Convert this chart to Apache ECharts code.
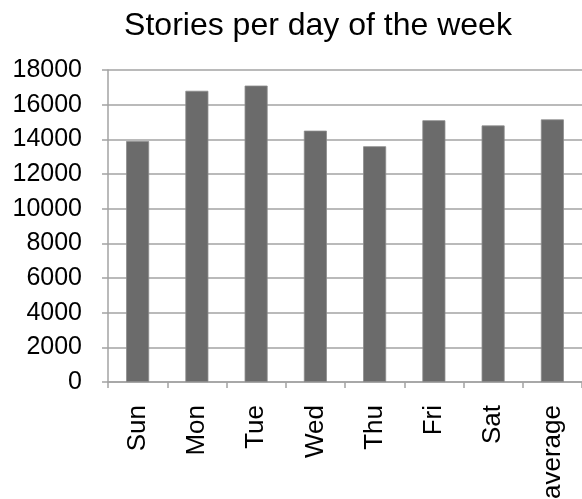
<!DOCTYPE HTML>
<html>
	<head>
		<meta http-equiv="Content-type" content="text/html; charset=UTF-8" />
		<script type="text/javascript" src="https://cdn.jsdelivr.net/npm/echarts@6/dist/echarts.min.js"></script>
		<style>
			body { margin: 0; }
		</style>
		<script type="text/javascript">
			var days = ['Sun', 'Mon', 'Tue', 'Wed', 'Thu', 'Fri', 'Sat', 'average'];
			var stories = [13900, 16800, 17100, 14500, 13600, 15100, 14800, 15150];
			var yTicks = [0, 2000, 4000, 6000, 8000, 10000, 12000, 14000, 16000, 18000];

			var lineColor = '#a3a3a3';
			var font = 'Liberation Sans, Arial, Helvetica, sans-serif';

			var option = {
				animation: false,
				title: {
					text: 'Stories per day of the week',
					left: 313,
					top: 5,
					textAlign: 'center',
					textStyle: { fontSize: 32, fontWeight: 'normal', color: '#000', fontFamily: font }
				},
				grid: {
					left: 108, right: 0, top: 70, bottom: 117,
					containLabel: false,
					outerBoundsMode: 'none'
				},
				xAxis: {
					type: 'category',
					data: days,
					axisLine: { lineStyle: { color: lineColor, width: 1.5 } },
					axisTick: { show: true, length: 6, alignWithLabel: false, lineStyle: { color: lineColor, width: 1.5 } },
					axisLabel: { rotate: 90, margin: 23, interval: 0, fontSize: 26, color: '#000', fontFamily: font }
				},
				yAxis: {
					type: 'value',
					min: yTicks[0],
					max: yTicks[yTicks.length - 1],
					interval: yTicks[1] - yTicks[0],
					axisLine: { show: true, lineStyle: { color: lineColor, width: 1.5 } },
					axisTick: { show: true, length: 6, lineStyle: { color: lineColor, width: 1.5 } },
					splitLine: { lineStyle: { color: lineColor, width: 1.5 } },
					axisLabel: {
						margin: 26, fontSize: 25, color: '#000', fontFamily: font,
						formatter: function (v) { return String(v); }
					}
				},
				series: [{
					type: 'bar',
					data: stories,
					barWidth: 23,
					itemStyle: { color: '#6b6b6b', borderColor: '#8c8c8c', borderWidth: 0.8 }
				}]
			};

			window.onload = function () {
				var myChart = echarts.init(document.getElementById('div_1'));
				myChart.setOption(option);
			};
		</script>
	</head>
	<body>
		<div id="div_1" style="width: 582px;height:499px;"></div>
	</body>
</html>
